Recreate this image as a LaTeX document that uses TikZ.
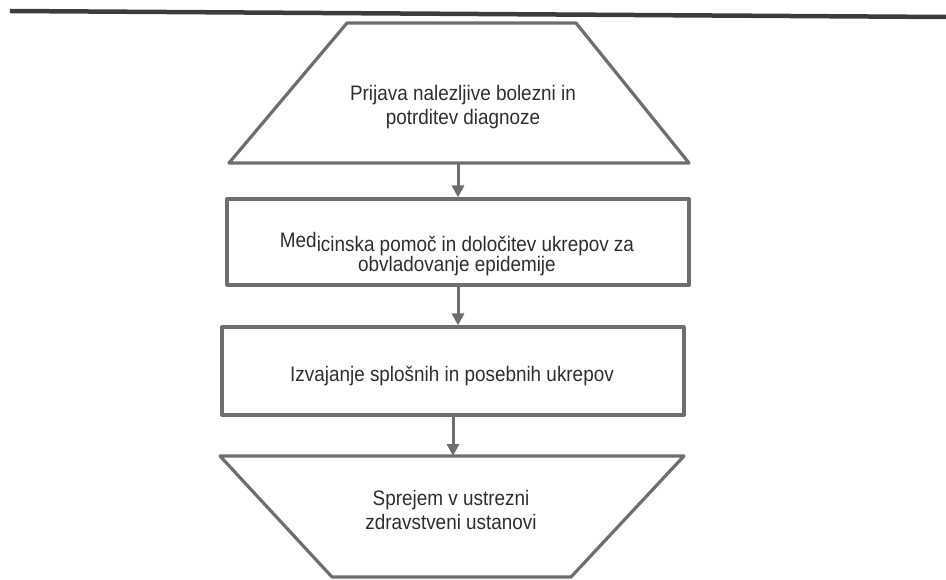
\documentclass[tikz,border=0pt]{standalone}
\usepackage{fontspec}
\setmainfont[FakeStretch=0.9]{Liberation Sans}
\usetikzlibrary{arrows.meta}
\definecolor{linegray}{HTML}{6E6E6E}
\definecolor{rulegray}{HTML}{3C3C3C}
\definecolor{textgray}{HTML}{2E2E2E}
\begin{document}
\begin{tikzpicture}[x=1pt,y=-1pt,
  shapeline/.style={draw=linegray, line width=3.2pt, line join=round},
  boxnode/.style={shapeline, rectangle, inner sep=0pt, minimum width=462pt},
  lbl/.style={align=center, text=textgray, inner sep=0pt, font=\fontsize{21}{24}\selectfont},
  conn/.style={draw=linegray, line width=3pt, -{Triangle[width=12pt,length=12pt]}}]
\useasboundingbox (0,0) rectangle (946,580);
% top rule
\coordinate (ruleL) at (10,11);
\coordinate (ruleR) at (946,17);
\draw[rulegray, line width=4.5pt] (ruleL) -- (ruleR);
% trapezoid 1
\coordinate (t1a) at (347,23);
\coordinate (t1b) at (576,23);
\coordinate (t1c) at (689,163);
\coordinate (t1d) at (229,163);
\coordinate (t1bot) at (458,163);
\draw[shapeline] (t1a) -- (t1b) -- (t1c) -- (t1d) -- cycle;
\node[lbl] (t1text) at (463,107) {Prijava nalezljive bolezni in\\potrditev diagnoze};
% rectangle 1
\node[boxnode, minimum height=86pt] (r1) at (458,242) {};
\node[lbl, font=\fontsize{21}{18}\selectfont] (r1text) at (457,254) {\raisebox{4pt}{Med}icinska pomoč in določitev ukrepov za\\obvladovanje epidemije};
% rectangle 2
\node[boxnode, minimum height=88pt] (r2) at (453,371) {};
\node[lbl] (r2text) at (452,376) {Izvajanje splošnih in posebnih ukrepov};
% trapezoid 2
\coordinate (t2a) at (220,456);
\coordinate (t2b) at (684,456);
\coordinate (t2c) at (571,577);
\coordinate (t2d) at (332,577);
\coordinate (t2top) at (453,456);
\draw[shapeline] (t2a) -- (t2b) -- (t2c) -- (t2d) -- cycle;
\node[lbl] (t2text) at (451,510) {Sprejem v ustrezni\\zdravstveni ustanovi};
% connectors
\draw[conn] (t1bot) -- (r1.north);
\draw[conn] (r1.south) -- (r1.south |- r2.north);
\draw[conn] (r2.south) -- (t2top);
\end{tikzpicture}
\end{document}
